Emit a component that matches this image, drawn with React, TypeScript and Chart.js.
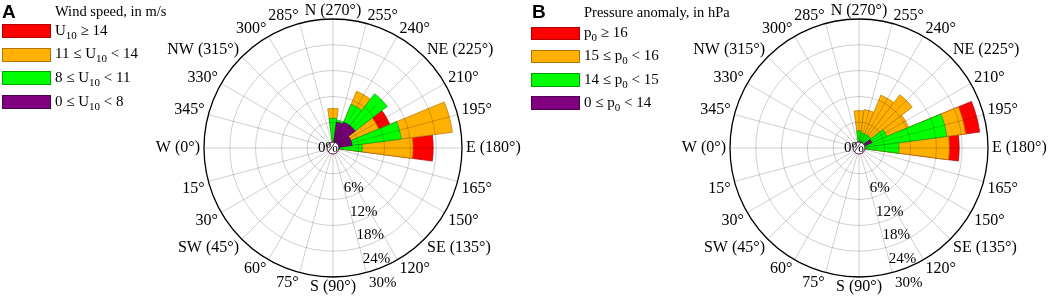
import React, { useEffect, useRef } from 'react';
import { Chart, registerables } from 'chart.js';

Chart.register(...registerables);

// Direction sectors, clockwise from the top of the rose (15° bins)
const directionLabels = [
  'N (270°)', '255°', '240°', 'NE (225°)', '210°', '195°', 'E (180°)', '165°', '150°', 'SE (135°)', '120°', '105°',
  'S (90°)', '75°', '60°', 'SW (45°)', '30°', '15°', 'W (0°)', '345°', '330°', 'NW (315°)', '300°', '285°',
];
// In the original the 105° label is replaced by the radial percentage labels
const hiddenDirectionLabels = ['105°'];

const radialTicks = [6, 12, 18, 24, 30];
const radialTickLabels = ['6%', '12%', '18%', '24%', '30%'];
const centerLabel = '0%';

// Panel A – wind speed classes, % of cases per direction sector
const windBelow8 = [0, 6, 6.5, 6.5, 4.5, 4.5, 1.5, 0, 0, 0, 0, 0, 0, 0, 0, 0, 0, 0, 0, 0, 0, 0, 0, 0];
const wind8to11 = [6.9, 0.5, 4.5, 9.4, 0, 11.5, 5.3, 0, 0, 0, 0, 0, 0, 0, 0, 0, 0, 0, 0, 0, 0, 0, 0, 0];
const wind11to14 = [2.3, 0, 3.3, 0, 7, 12, 11.8, 0, 0, 0, 0, 0, 0, 0, 0, 0, 0, 0, 0, 0, 0, 0, 0, 0];
const windAbove14 = [0, 0, 0, 0, 2.8, 0, 4.7, 0, 0, 0, 0, 0, 0, 0, 0, 0, 0, 0, 0, 0, 0, 0, 0, 0];

// Panel B – pressure anomaly classes, % of cases per direction sector
const pressBelow14 = [0, 0, 0, 0, 3.2, 1, 0.5, 0, 0, 0, 0, 0, 0, 0, 0, 0, 0, 0, 0, 0, 0, 0, 0, 0];
const press14to15 = [4, 3.5, 3.5, 3.5, 3.8, 19.6, 8.8, 0, 0, 0, 0, 0, 0, 0, 0, 0, 0, 0, 0, 0, 0, 0, 0, 0];
const press15to16 = [4.7, 5.5, 9.8, 12.1, 5.5, 4.4, 11.7, 0, 0, 0, 0, 0, 0, 0, 0, 0, 0, 0, 0, 0, 0, 0, 0, 0];
const pressAbove16 = [0, 0, 0, 0, 0, 3.3, 2.3, 0, 0, 0, 0, 0, 0, 0, 0, 0, 0, 0, 0, 0, 0, 0, 0, 0];

// Legend texts, top to bottom (highest class first); _{..} marks a subscript
const windTitle = 'Wind speed, in m/s';
const windLegend = ['U_{10} ≥ 14', '11 ≤ U_{10} < 14', '8 ≤ U_{10} < 11', '0 ≤ U_{10} < 8'];
const pressTitle = 'Pressure anomaly, in hPa';
const pressLegend = ['p_{0} ≥ 16', '15 ≤ p_{0} < 16', '14 ≤ p_{0} < 15', '0 ≤ p_{0} < 14'];

// Class colours from the innermost (lowest) to the outermost (highest) class
const classColors = ['#800080', '#00FF00', '#FFB000', '#FF0000'];
const classBorders = ['#4a004a', '#00a000', '#b07400', '#b00000'];

const gridColor = 'rgba(0,0,0,0.24)';
const serif = '"Liberation Serif", "Times New Roman", serif';
const labelFont = '16px ' + serif;
const tickFont = '15px ' + serif;

const roseDecor = {
  id: 'roseDecor',
  afterDatasetsDraw(chart: any) {
    const s = chart.scales.r;
    const ctx = chart.ctx;
    const cx = s.xCenter;
    const cy = s.yCenter;
    const R = s.getDistanceFromCenterForValue(s.max);
    const n = directionLabels.length;
    ctx.save();
    ctx.strokeStyle = gridColor;
    ctx.lineWidth = 0.8;
    for (let i = 0; i < n; i++) {
      const a = (i * 2 * Math.PI) / n;
      ctx.beginPath();
      ctx.moveTo(cx, cy);
      ctx.lineTo(cx + R * Math.sin(a), cy - R * Math.cos(a));
      ctx.stroke();
    }
    ctx.restore();
  },
  afterDraw(chart: any) {
    const s = chart.scales.r;
    const ctx = chart.ctx;
    const cx = s.xCenter;
    const cy = s.yCenter;
    const R = s.getDistanceFromCenterForValue(s.max);
    const n = directionLabels.length;
    ctx.save();
    ctx.font = labelFont;
    ctx.fillStyle = '#000';
    directionLabels.forEach((lab, i) => {
      if (hiddenDirectionLabels.includes(lab)) return;
      const a = (i * 2 * Math.PI) / n;
      const sin = Math.sin(a);
      const cos = Math.cos(a);
      const x = cx + (R + 4) * sin;
      const y = cy - (R + 4) * cos;
      ctx.textAlign = Math.abs(sin) < 0.05 ? 'center' : sin > 0 ? 'left' : 'right';
      if (Math.abs(cos) < 0.05) {
        ctx.textBaseline = 'middle';
        ctx.fillText(lab, x, y);
      } else if (cos > 0) {
        ctx.textBaseline = 'alphabetic';
        ctx.fillText(lab, x, y);
      } else {
        ctx.textBaseline = 'top';
        ctx.fillText(lab, x, y - 2);
      }
    });
    // radial percentage labels along the 105° spoke
    ctx.font = tickFont;
    const aT = (directionLabels.indexOf('105°') * 2 * Math.PI) / n;
    ctx.textAlign = 'left';
    ctx.textBaseline = 'middle';
    radialTicks.forEach((v, k) => {
      const r = s.getDistanceFromCenterForValue(v) * 0.95 + 17;
      ctx.fillText(radialTickLabels[k], cx + r * Math.sin(aT), cy - r * Math.cos(aT));
    });
    // centre hole and 0% label
    ctx.beginPath();
    ctx.arc(cx, cy, 6, 0, Math.PI * 2);
    ctx.fillStyle = '#fff';
    ctx.fill();
    ctx.strokeStyle = '#5a1a50';
    ctx.lineWidth = 1;
    ctx.stroke();
    ctx.fillStyle = '#000';
    ctx.textAlign = 'center';
    ctx.fillText(centerLabel, cx - 5, cy);
    ctx.restore();
  },
};

function RoseChart({ series }: { series: number[][] }) {
  const ref = useRef<HTMLCanvasElement>(null);
  useEffect(() => {
    const cum = directionLabels.map(() => 0);
    const datasets = series.map((values, k) => {
      const data = values.map((v, i) => {
        cum[i] += v;
        return v > 0 ? Math.round(cum[i] * 100) / 100 : null;
      });
      return {
        data,
        backgroundColor: classColors[k],
        borderColor: classBorders[k],
        borderWidth: 0.7,
      };
    });
    const chart = new Chart(ref.current as HTMLCanvasElement, {
      type: 'polarArea',
      data: { labels: directionLabels, datasets: datasets as any },
      options: {
        responsive: false,
        animation: false,
        events: [],
        layout: { padding: { left: 150, right: 10, top: 19, bottom: 23 } },
        plugins: { legend: { display: false }, tooltip: { enabled: false } },
        scales: {
          r: {
            startAngle: -7.5,
            min: 0,
            max: 30,
            beginAtZero: true,
            ticks: { display: false, stepSize: 6, z: 1 },
            grid: {
              circular: true,
              z: 1,
              color: (c: any) => (c.tick && c.tick.value >= 30 ? '#000' : gridColor),
              lineWidth: (c: any) => (c.tick && c.tick.value >= 30 ? 1.3 : 0.8),
            },
            angleLines: { display: false },
            pointLabels: { display: false },
          },
        },
      } as any,
      plugins: [roseDecor],
    });
    return () => chart.destroy();
  }, [series]);
  return <canvas ref={ref} width={526} height={300} style={{ display: 'block', width: 526, height: 300 }} />;
}

function rich(text: string) {
  const parts = text.split(/_\{([^}]*)\}/);
  return parts.map((p, i) =>
    i % 2 === 1 ? (
      <span key={i} style={{ fontSize: 11, position: 'relative', top: 4 }}>{p}</span>
    ) : (
      <span key={i}>{p}</span>
    )
  );
}

type LegendGeom = { dx: number; letterLeft: number; titleTop: number; boxTop: number; step: number; boxH: number };

function Panel({ left, letter, title, legend, series, geom }: {
  left: number; letter: string; title: string; legend: string[]; series: number[][]; geom: LegendGeom;
}) {
  const topDown = [...classColors].reverse();
  const topDownBorders = [...classBorders].reverse();
  return (
    <div style={{ position: 'absolute', left, top: 0, width: 526, height: 300 }}>
      <RoseChart series={series} />
      <div style={{ position: 'absolute', left: geom.letterLeft, top: 1, font: 'bold 19px "Liberation Sans", Arial, sans-serif', lineHeight: '22px', color: '#000' }}>{letter}</div>
      <div style={{ position: 'absolute', left: 55 + geom.dx, top: geom.titleTop, font: '14.5px ' + serif, lineHeight: '16px', whiteSpace: 'nowrap', color: '#000' }}>{title}</div>
      {legend.map((t, k) => (
        <React.Fragment key={k}>
          <div style={{
            position: 'absolute', left: 2 + geom.dx, top: geom.boxTop + k * geom.step, width: 49, height: geom.boxH,
            boxSizing: 'border-box', background: topDown[k], border: '1px solid ' + topDownBorders[k],
          }} />
          <div style={{
            position: 'absolute', left: 55 + geom.dx, top: geom.boxTop - 2.5 + k * geom.step, font: '15px ' + serif,
            lineHeight: '17px', whiteSpace: 'pre', color: '#000',
          }}>{rich(t)}</div>
        </React.Fragment>
      ))}
    </div>
  );
}

const windSeries = [windBelow8, wind8to11, wind11to14, windAbove14];
const pressSeries = [pressBelow14, press14to15, press15to16, pressAbove16];

export default function App() {
  return (
    <div style={{ position: 'absolute', left: 0, top: 0, width: 1052, height: 300, background: '#fff', overflow: 'hidden' }}>
      <Panel left={0} letter="A" title={windTitle} legend={windLegend} series={windSeries}
        geom={{ dx: 0, letterLeft: 2, titleTop: 2.5, boxTop: 24, step: 23.7, boxH: 14 }} />
      <Panel left={526} letter="B" title={pressTitle} legend={pressLegend} series={pressSeries}
        geom={{ dx: 3, letterLeft: 6, titleTop: 3.5, boxTop: 26.5, step: 23.3, boxH: 13.5 }} />
    </div>
  );
}
